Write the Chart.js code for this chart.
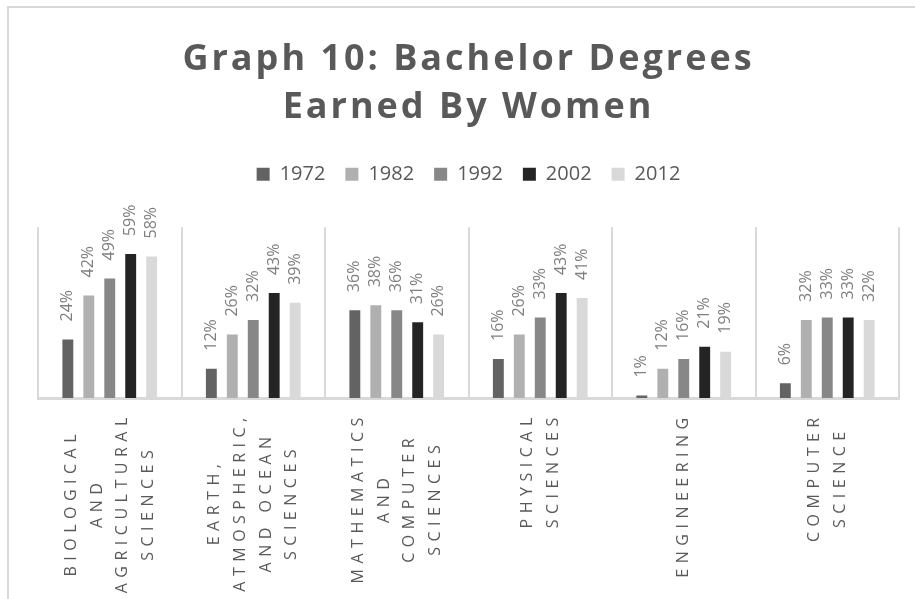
<!DOCTYPE html>
<html>
<head>
<meta charset="utf-8">
<script src="https://cdn.jsdelivr.net/npm/chart.js@4/dist/chart.umd.min.js"></script>
<style>
  html, body { margin: 0; padding: 0; background: #ffffff; }
  #wrap { position: relative; width: 915px; height: 599px; overflow: hidden; }
  #frame { position: absolute; left: 7px; top: 6px; width: 1000px; height: 700px;
           border-left: 2px solid #d9d9d9; border-top: 2px solid #d9d9d9; }
  canvas { position: absolute; left: 0; top: 0; }
</style>
</head>
<body>
<div id="wrap">
  <div id="frame"></div>
  <canvas id="c" width="915" height="599"></canvas>
</div>
<script>
// ---- data ----
const titleLines = ['Graph 10: Bachelor Degrees', 'Earned By Women'];
const categories = [
  ['BIOLOGICAL', 'AND', 'AGRICULTURAL', 'SCIENCES'],
  ['EARTH,', 'ATMOSPHERIC,', 'AND OCEAN', 'SCIENCES'],
  ['MATHEMATICS', 'AND', 'COMPUTER', 'SCIENCES'],
  ['PHYSICAL', 'SCIENCES'],
  ['ENGINEERING'],
  ['COMPUTER', 'SCIENCE']
];
const seriesNames = ['1972', '1982', '1992', '2002', '2012'];
const v1972 = [24, 12, 36, 16, 1, 6];
const v1982 = [42, 26, 38, 26, 12, 32];
const v1992 = [49, 32, 36, 33, 16, 33];
const v2002 = [59, 43, 31, 43, 21, 33];
const v2012 = [58, 39, 26, 41, 19, 32];
const seriesValues = [v1972, v1982, v1992, v2002, v2012];
const seriesColors = ['#636363', '#b0b0b0', '#878787', '#242424', '#d9d9d9'];

// ---- style constants ----
const TEXT_COLOR = '#595959';
const LABEL_COLOR = '#7f7f7f';
const TITLE_SPACING = 3;
const TICK_SPACING = 5.5;
const LEGEND_EXTRA = 33;
const LABEL_GAP = 18;

const layoutPlugin = {
  id: 'layoutTweaks',
  beforeLayout(chart) {
    const lg = chart.legend;
    if (lg && !lg._extraPatched) {
      const f = lg.fit;
      lg.fit = function () { f.apply(this, arguments); this.height += LEGEND_EXTRA; };
      lg._extraPatched = true;
    }
    const t = chart.titleBlock;
    if (t && !t._lsPatched) {
      const d = t.draw;
      t.draw = function () {
        const c = this.ctx; c.save(); c.letterSpacing = TITLE_SPACING + 'px';
        d.apply(this, arguments); c.restore();
      };
      t._lsPatched = true;
    }
    const x = chart.scales.x;
    if (x && !x._lsPatched) {
      const comp = x._computeLabelItems;
      x._computeLabelItems = function (area) {
        const items = comp.call(this, area);
        const c = this.ctx;
        c.save();
        c.letterSpacing = TICK_SPACING + 'px';
        items.forEach(it => {
          const lines = Array.isArray(it.label) ? it.label : [it.label];
          c.font = it.font.string;
          const maxW = Math.max(...lines.map(l => c.measureText(l).width)) - TICK_SPACING;
          const lh = it.font.lineHeight;
          it.textOffset -= (lines.length - 1) * lh / 2;
          it.options.textAlign = 'center';
          it.options.translation = [it.options.translation[0], it.options.translation[1] + maxW / 2];
        });
        c.restore();
        return items;
      };
      const dl = x.drawLabels;
      x.drawLabels = function () {
        const c = this.ctx; c.save(); c.letterSpacing = TICK_SPACING + 'px';
        dl.apply(this, arguments); c.restore();
      };
      x._lsPatched = true;
    }
  },
  afterDatasetsDraw(chart) {
    const ctx = chart.ctx;
    chart.data.datasets.forEach((ds, i) => {
      const meta = chart.getDatasetMeta(i);
      meta.data.forEach((bar, j) => {
        ctx.save();
        ctx.translate(bar.x, bar.y - LABEL_GAP);
        ctx.rotate(-Math.PI / 2);
        ctx.font = '16px "Open Sans"';
        ctx.fillStyle = LABEL_COLOR;
        ctx.textAlign = 'left';
        ctx.textBaseline = 'middle';
        ctx.fillText(ds.data[j] + '%', 0, 0);
        ctx.restore();
      });
    });
  }
};

Chart.defaults.font.family = '"Open Sans", sans-serif';
Chart.defaults.color = TEXT_COLOR;

new Chart(document.getElementById('c'), {
  type: 'bar',
  data: {
    labels: categories,
    datasets: seriesNames.map((n, i) => ({
      label: n,
      data: seriesValues[i],
      backgroundColor: seriesColors[i],
      borderWidth: 0,
      barPercentage: 0.52,
      categoryPercentage: 0.73
    }))
  },
  options: {
    responsive: false,
    animation: false,
    devicePixelRatio: 1,
    layout: { padding: { left: 38, right: 16, top: 0, bottom: 0 } },
    plugins: {
      tooltip: { enabled: false },
      title: {
        display: true,
        text: titleLines,
        color: TEXT_COLOR,
        font: { size: 36, weight: 'bold', lineHeight: 1.35 },
        padding: { top: 35, bottom: 12 }
      },
      legend: {
        display: true,
        position: 'top',
        labels: {
          color: TEXT_COLOR,
          font: { size: 20 },
          boxWidth: 13,
          boxHeight: 13,
          padding: 20
        }
      }
    },
    scales: {
      x: {
        grid: { display: true, offset: true, color: '#d9d9d9', lineWidth: 2, drawTicks: false },
        border: { display: true, color: '#d9d9d9', width: 3 },
        ticks: {
          autoSkip: false,
          minRotation: 90,
          maxRotation: 90,
          padding: 17,
          color: TEXT_COLOR,
          font: { size: 16, lineHeight: 1.6 }
        },
        afterFit(scale) { scale.height = 201; }
      },
      y: {
        display: false,
        min: 0,
        max: 70
      }
    }
  },
  plugins: [layoutPlugin]
});
</script>
</body>
</html>
